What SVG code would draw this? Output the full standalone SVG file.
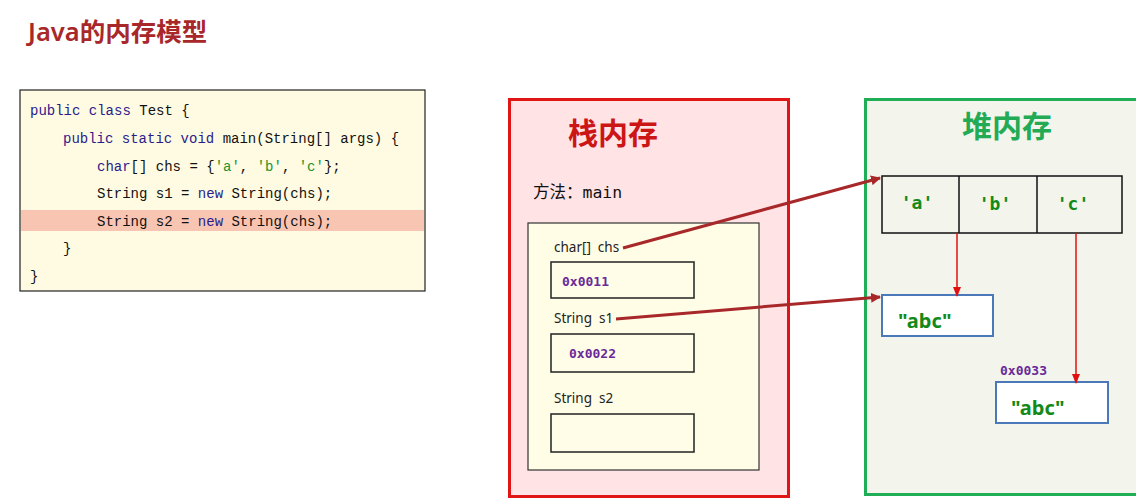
<svg xmlns="http://www.w3.org/2000/svg" width="1136" height="503" viewBox="0 0 1136 503">
<defs>
<style>
.code{font-family:"Liberation Mono","DejaVu Sans Mono",monospace;font-size:14px;fill:#111}
.kw{fill:#2b1c8c}
.str{fill:#22922e}
.lbl{font-family:"Noto Sans","DejaVu Sans",sans-serif;font-size:13.5px;fill:#222;white-space:pre}
.addr{font-family:"DejaVu Sans Mono","Liberation Mono",monospace;font-size:13px;font-weight:bold;fill:#6a2a9a}
.val{font-family:"Noto Sans","DejaVu Sans",sans-serif;font-size:20px;font-weight:bold;fill:#138a18}
.chr{font-family:"DejaVu Sans Mono","Liberation Mono",monospace;font-size:18px;font-weight:bold;fill:#138a18}
.slot{fill:#fffde8;stroke:#222;stroke-width:1.5}
.obj{fill:#fff;stroke:#4a78b8;stroke-width:2}
</style>
<marker id="ah" markerWidth="10" markerHeight="10" refX="9" refY="5" orient="auto" markerUnits="userSpaceOnUse">
<path d="M0,0 L10,5 L0,10 z" fill="#a8282a"/>
</marker>
<marker id="ahr" markerWidth="10" markerHeight="10" refX="9" refY="5" orient="auto" markerUnits="userSpaceOnUse">
<path d="M0,1 L10,5 L0,9 z" fill="#e01010"/>
</marker>
</defs>
<rect width="1136" height="503" fill="#fff"/>
<text x="28" y="41" font-family="'Noto Sans','Noto Sans CJK SC',sans-serif" font-size="25.5" font-weight="600" fill="#a8282a">Java的内存模型</text>

<g id="code">
<rect x="20" y="90" width="405" height="201" fill="#fffbe2" stroke="#222" stroke-width="1.2"/>
<rect x="21" y="210" width="403" height="21" fill="#f9c5b3"/>
<text class="code" x="30" y="115"><tspan class="kw">public class</tspan> Test {</text>
<text class="code" x="63" y="143"><tspan class="kw">public static void</tspan> main(String[] args) {</text>
<text class="code" x="97" y="171"><tspan class="kw">char</tspan>[] chs = {<tspan class="str">'a'</tspan>, <tspan class="str">'b'</tspan>, <tspan class="str">'c'</tspan>};</text>
<text class="code" x="97" y="198">String s1 = <tspan class="kw">new</tspan> String(chs);</text>
<text class="code" x="97" y="226">String s2 = <tspan class="kw">new</tspan> String(chs);</text>
<text class="code" x="63" y="253">}</text>
<text class="code" x="30" y="281">}</text>
</g>

<g id="stack">
<rect x="509.5" y="99.5" width="279" height="397" fill="#ffe3e5" stroke="#e01515" stroke-width="3"/>
<text x="613" y="144" text-anchor="middle" font-family="'Noto Sans CJK SC',sans-serif" font-size="30" font-weight="bold" fill="#cc1515">栈内存</text>
<text x="533" y="198" font-family="'DejaVu Sans Mono','Noto Sans CJK SC',monospace" font-size="16.5" fill="#111">方法：main</text>
<rect x="528" y="223" width="231" height="247" fill="#fffde6" stroke="#333" stroke-width="1.2"/>
</g>
<g id="slot-chs">
<text class="lbl" x="554" y="252">char[]  chs</text>
<rect class="slot" x="551" y="262" width="143" height="36"/>
<text class="addr" x="562" y="286">0x0011</text>
</g>
<g id="slot-s1">
<text class="lbl" x="554" y="323">String  s1</text>
<rect class="slot" x="551" y="334" width="143" height="38"/>
<text class="addr" x="569" y="358">0x0022</text>
</g>
<g id="slot-s2">
<text class="lbl" x="554" y="403">String  s2</text>
<rect class="slot" x="551" y="414" width="143" height="38"/>
</g>

<g id="heap">
<rect x="865.5" y="99.5" width="290" height="395" fill="#f3f5ec" stroke="#1fae55" stroke-width="3"/>
<text x="1007" y="137" text-anchor="middle" font-family="'Noto Sans CJK SC',sans-serif" font-size="30" font-weight="bold" fill="#22aa55">堆内存</text>
</g>
<g id="array">
<rect x="882" y="176" width="240" height="57" fill="none" stroke="#111" stroke-width="1.5"/>
<line x1="959" y1="176" x2="959" y2="233" stroke="#111" stroke-width="1.5"/>
<line x1="1037" y1="176" x2="1037" y2="233" stroke="#111" stroke-width="1.5"/>
<text class="chr" x="917" y="209" text-anchor="middle">'a'</text>
<text class="chr" x="995" y="210" text-anchor="middle">'b'</text>
<text class="chr" x="1073" y="210" text-anchor="middle">'c'</text>
</g>
<g id="str1">
<rect class="obj" x="882" y="295" width="111" height="41"/>
<text class="val" x="898" y="328">"abc"</text>
</g>
<g id="str2">
<text class="addr" x="1000" y="375" font-size="12">0x0033</text>
<rect class="obj" x="996" y="382" width="112" height="41"/>
<text class="val" x="1011" y="415">"abc"</text>
</g>

<g id="connectors">
<line x1="623" y1="248" x2="880" y2="178" stroke="#a8282a" stroke-width="3" marker-end="url(#ah)"/>
<line x1="616" y1="319" x2="880" y2="297" stroke="#a8282a" stroke-width="3" marker-end="url(#ah)"/>
<line x1="957" y1="233" x2="957" y2="296" stroke="#e01010" stroke-width="1.5" marker-end="url(#ahr)"/>
<line x1="1076" y1="233" x2="1076" y2="383" stroke="#e01010" stroke-width="1.5" marker-end="url(#ahr)"/>
</g>
</svg>
